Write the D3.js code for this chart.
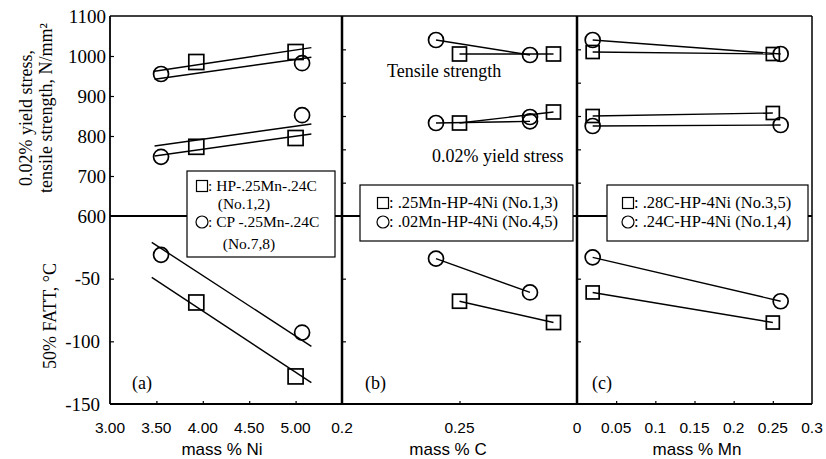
<!DOCTYPE html>
<html>
<head>
<meta charset="utf-8">
<script src="https://cdn.jsdelivr.net/npm/d3@7"></script>
<style>
  body { margin: 0; background: #fff; }
  svg { display: block; }
</style>
</head>
<body>
<div id="wrapper"></div>
<script>
// ---- panel (a): mass % Ni ----
const aSquareNi = [3.93, 5.00];
const aSquareTS = [985, 1010];
const aSquareYS = [773, 795];
const aSquareFATT = [-69, -128];
const aCircleNi = [3.55, 5.07];
const aCircleTS = [955, 982];
const aCircleYS = [748, 852];
const aCircleFATT = [-31, -93];
// fitted lines in (a): end points
const aFitNi = [3.48, 5.17];
const aFitTS1 = [962, 1021];
const aFitTS2 = [942, 997];
const aFitYS1 = [775, 830];
const aFitYS2 = [750, 805];
const aFitNiF = [3.45, 5.17];
const aFitFATT1 = [-21, -104];
const aFitFATT2 = [-49, -133];

// ---- panel (b): mass % C ----
const bSquareC = [0.25, 0.29];
const bSquareTS = [1086, 1086];
const bSquareYS = [879, 912];
const bSquareFATT = [-68, -85];
const bCircleC = [0.24, 0.28];
const bCircleTS = [1128, 1083];
const bCircleYS = [879, 884];
const bCircleFATT = [-34, -61];
const bExtraCircleC = [0.28];
const bExtraCircleYS = [897];

// ---- panel (c): mass % Mn ----
const cSquareMn = [0.02, 0.25];
const cSquareTS = [1092, 1086];
const cSquareYS = [900, 909];
const cSquareFATT = [-61, -85];
const cCircleMn = [0.02, 0.26];
const cCircleTS = [1128, 1086];
const cCircleYS = [870, 873];
const cCircleFATT = [-33, -68];

// ---- ticks ----
const topTickLabels = [1100, 1000, 900, 800, 700, 600];
const botTickLabels = [-50, -100, -150];
const aXTicks = [3.00, 3.50, 4.00, 4.50, 5.00];
const bXTicks = [0.2, 0.25];
const cXTicks = [0, 0.05, 0.1, 0.15, 0.2, 0.25, 0.3];

const width = 826, height = 459;
const plotTop = 16, plotMid = 216, plotBottom = 404;

const svg = d3.select("#wrapper").append("svg")
    .attr("width", width)
    .attr("height", height);

const serif = "'Liberation Serif', 'Times New Roman', serif";
const sans = "'Liberation Sans', Arial, sans-serif";

const xA = d3.scaleLinear().domain([3, 5.5]).range([110, 342]);
const xB = d3.scaleLinear().domain([0.2, 0.3]).range([342, 577]);
const xC = d3.scaleLinear().domain([0, 0.3]).range([577, 812]);
const yTopA = d3.scaleLinear().domain([600, 1100]).range([plotMid, plotTop]);
const yTopBC = d3.scaleLinear().domain([600, 1200]).range([plotMid, plotTop]);
const yBot = d3.scaleLinear().domain([-150, 0]).range([plotBottom, plotMid]);

const panels = [
    { x: xA, yT: yTopA, fmt: d3.format(".2f"), xt: aXTicks, label: "(a)", labelX: 132, title: "mass % Ni", titleX: 222,
      yTicks: [700, 800, 900, 1000] },
    { x: xB, yT: yTopBC, fmt: d => String(d), xt: bXTicks, label: "(b)", labelX: 365, title: "mass % C", titleX: 448,
      yTicks: [700, 800, 900, 1000, 1100] },
    { x: xC, yT: yTopBC, fmt: d => String(d), xt: cXTicks, label: "(c)", labelX: 592, title: "mass % Mn", titleX: 697,
      yTicks: [700, 800, 900, 1000, 1100] }
];

// inward ticks
panels.forEach(p => {
    const x0 = p.x.range()[0];
    const gT = svg.append("g").attr("transform", `translate(${x0},0)`)
        .call(d3.axisRight(p.yT).tickValues(p.yTicks).tickSize(4).tickFormat("").tickSizeOuter(0));
    gT.select(".domain").remove();
    const gB = svg.append("g").attr("transform", `translate(${x0},0)`)
        .call(d3.axisRight(yBot).tickValues([-50, -100]).tickSize(4).tickFormat("").tickSizeOuter(0));
    gB.select(".domain").remove();
    const inner = p.xt.filter(v => v > p.x.domain()[0] && v < p.x.domain()[1]);
    const gX = svg.append("g").attr("transform", `translate(0,${plotBottom})`)
        .call(d3.axisTop(p.x).tickValues(inner).tickSize(3).tickFormat("").tickSizeOuter(0));
    gX.select(".domain").remove();
    svg.selectAll(".tick line").attr("stroke", "#000").attr("stroke-width", 1.2);

    // x tick labels
    svg.append("g").selectAll("text").data(p.xt).join("text")
        .attr("x", d => p.x(d))
        .attr("y", 433)
        .attr("text-anchor", "middle")
        .style("font-family", sans)
        .style("font-size", "15.5px")
        .text(d => p.fmt(d));

    svg.append("text")
        .attr("x", p.titleX).attr("y", 455)
        .attr("text-anchor", "middle")
        .style("font-family", sans)
        .style("font-size", "17px")
        .text(p.title);

    svg.append("text")
        .attr("x", p.labelX).attr("y", 389)
        .style("font-family", serif)
        .style("font-size", "18px")
        .text(p.label);
});

// y tick labels (left)
svg.append("g").selectAll("text").data(topTickLabels).join("text")
    .attr("x", 106)
    .attr("y", d => yTopA(d))
    .attr("dy", "0.35em")
    .attr("text-anchor", "end")
    .style("font-family", serif)
    .style("font-size", "19px")
    .text(d => d);

svg.append("g").selectAll("text").data(botTickLabels).join("text")
    .attr("x", 100)
    .attr("y", d => yBot(d))
    .attr("dy", "0.35em")
    .attr("text-anchor", "end")
    .style("font-family", serif)
    .style("font-size", "19px")
    .text(d => d);

// y titles
const yTitle = (txt, x, y) => svg.append("text")
    .attr("transform", `translate(${x},${y}) rotate(-90)`)
    .attr("text-anchor", "middle")
    .attr("dominant-baseline", "central")
    .style("font-family", serif)
    .style("font-size", "18px")
    .text(txt);
yTitle("0.02% yield stress,", 26, 118);
yTitle("tensile strength, N/mm\u00B2", 46, 108);
yTitle("50% FATT, \u00B0C", 50, 316);

// frame
const frame = svg.append("g").attr("fill", "none").attr("stroke", "#000");
frame.append("line").attr("x1", 110).attr("x2", 812).attr("y1", plotTop).attr("y2", plotTop).attr("stroke-width", 1.5);
frame.append("line").attr("x1", 110).attr("x2", 812).attr("y1", plotBottom).attr("y2", plotBottom).attr("stroke-width", 2);
frame.append("line").attr("x1", 110).attr("x2", 812).attr("y1", plotMid).attr("y2", plotMid).attr("stroke-width", 2);
[110, 342, 577].forEach(x => frame.append("line").attr("x1", x).attr("x2", x)
    .attr("y1", plotTop).attr("y2", plotBottom).attr("stroke-width", x === 110 ? 1.8 : 2.5));
frame.append("line").attr("x1", 812).attr("x2", 812).attr("y1", plotTop).attr("y2", plotBottom).attr("stroke-width", 1.5);

// plotting helpers
const lineG = svg.append("g").attr("fill", "none").attr("stroke", "#000").attr("stroke-width", 1.4);
function segment(xs, ys, xScale, yScale) {
    const pts = xs.map((x, i) => [xScale(x), yScale(ys[i])]);
    lineG.append("path").attr("d", d3.line()(pts));
}
const markG = svg.append("g").attr("fill", "none").attr("stroke", "#000").attr("stroke-width", 1.7);
function squares(xs, ys, xScale, yScale, s = 14) {
    xs.forEach((x, i) => markG.append("rect")
        .attr("x", xScale(x) - s / 2).attr("y", yScale(ys[i]) - s / 2)
        .attr("width", s).attr("height", s));
}
function circles(xs, ys, xScale, yScale, r = 7.5) {
    xs.forEach((x, i) => markG.append("circle")
        .attr("cx", xScale(x)).attr("cy", yScale(ys[i])).attr("r", r));
}

// panel (a)
segment(aFitNi, aFitTS1, xA, yTopA);
segment(aFitNi, aFitTS2, xA, yTopA);
segment(aFitNi, aFitYS1, xA, yTopA);
segment(aFitNi, aFitYS2, xA, yTopA);
segment(aFitNiF, aFitFATT1, xA, yBot);
segment(aFitNiF, aFitFATT2, xA, yBot);
squares(aSquareNi, aSquareTS, xA, yTopA, 15);
squares(aSquareNi, aSquareYS, xA, yTopA, 15);
squares(aSquareNi, aSquareFATT, xA, yBot, 15);
circles(aCircleNi, aCircleTS, xA, yTopA);
circles(aCircleNi, aCircleYS, xA, yTopA);
circles(aCircleNi, aCircleFATT, xA, yBot);

// panel (b)
segment(bSquareC, bSquareTS, xB, yTopBC);
segment(bCircleC, bCircleTS, xB, yTopBC);
segment(bSquareC, bSquareYS, xB, yTopBC);
segment(bCircleC, bCircleYS, xB, yTopBC);
segment(bSquareC, bSquareFATT, xB, yBot);
segment(bCircleC, bCircleFATT, xB, yBot);
squares(bSquareC, bSquareTS, xB, yTopBC);
squares(bSquareC, bSquareYS, xB, yTopBC);
squares(bSquareC, bSquareFATT, xB, yBot);
circles(bCircleC, bCircleTS, xB, yTopBC);
circles(bCircleC, bCircleYS, xB, yTopBC);
circles(bExtraCircleC, bExtraCircleYS, xB, yTopBC);
circles(bCircleC, bCircleFATT, xB, yBot);

// panel (c)
segment(cSquareMn, cSquareTS, xC, yTopBC);
segment(cCircleMn, cCircleTS, xC, yTopBC);
segment(cSquareMn, cSquareYS, xC, yTopBC);
segment(cCircleMn, cCircleYS, xC, yTopBC);
segment(cSquareMn, cSquareFATT, xC, yBot);
segment(cCircleMn, cCircleFATT, xC, yBot);
squares(cSquareMn, cSquareTS, xC, yTopBC, 13);
squares(cSquareMn, cSquareYS, xC, yTopBC, 13);
squares(cSquareMn, cSquareFATT, xC, yBot, 13);
circles(cCircleMn, cCircleTS, xC, yTopBC);
circles(cCircleMn, cCircleYS, xC, yTopBC);
circles(cCircleMn, cCircleFATT, xC, yBot);

// in-plot annotations
svg.append("text").attr("x", 387).attr("y", 77)
    .style("font-family", serif).style("font-size", "18px")
    .text("Tensile strength");
svg.append("text").attr("x", 432).attr("y", 162)
    .style("font-family", serif).style("font-size", "18px")
    .text("0.02% yield stress");

// legends
function legend(box, rows, symX, fs) {
    const g = svg.append("g");
    g.append("rect")
        .attr("x", box[0]).attr("y", box[1])
        .attr("width", box[2] - box[0]).attr("height", box[3] - box[1])
        .attr("fill", "#fff").attr("stroke", "#000").attr("stroke-width", 1.2);
    rows.forEach(r => {
        if (r.sym === "square") {
            g.append("rect").attr("x", symX - 5.5).attr("y", r.y - 10.5)
                .attr("width", 11).attr("height", 11)
                .attr("fill", "none").attr("stroke", "#000").attr("stroke-width", 1.2);
        } else if (r.sym === "circle") {
            g.append("circle").attr("cx", symX).attr("cy", r.y - 5).attr("r", 6)
                .attr("fill", "none").attr("stroke", "#000").attr("stroke-width", 1.2);
        }
        g.append("text")
            .attr("x", r.x).attr("y", r.y)
            .attr("text-anchor", r.anchor || "start")
            .style("font-family", serif).style("font-size", fs)
            .text(r.text);
    });
}
legend([187, 171, 335, 257], [
    { sym: "square", text: ": HP-.25Mn-.24C", x: 208, y: 191 },
    { text: "(No.1,2)", x: 244, y: 209, anchor: "middle" },
    { sym: "circle", text: ": CP -.25Mn-.24C", x: 208, y: 227 },
    { text: "(No.7,8)", x: 249, y: 249, anchor: "middle" }
], 202, "15.5px");
legend([360, 185, 573, 241], [
    { sym: "square", text: ": .25Mn-HP-4Ni (No.1,3)", x: 389, y: 208 },
    { sym: "circle", text: ": .02Mn-HP-4Ni (No.4,5)", x: 389, y: 227 }
], 383, "16.5px");
legend([607, 185, 808, 241], [
    { sym: "square", text: ": .28C-HP-4Ni (No.3,5)", x: 634, y: 208 },
    { sym: "circle", text: ": .24C-HP-4Ni (No.1,4)", x: 634, y: 227 }
], 628, "16.5px");
</script>
</body>
</html>
